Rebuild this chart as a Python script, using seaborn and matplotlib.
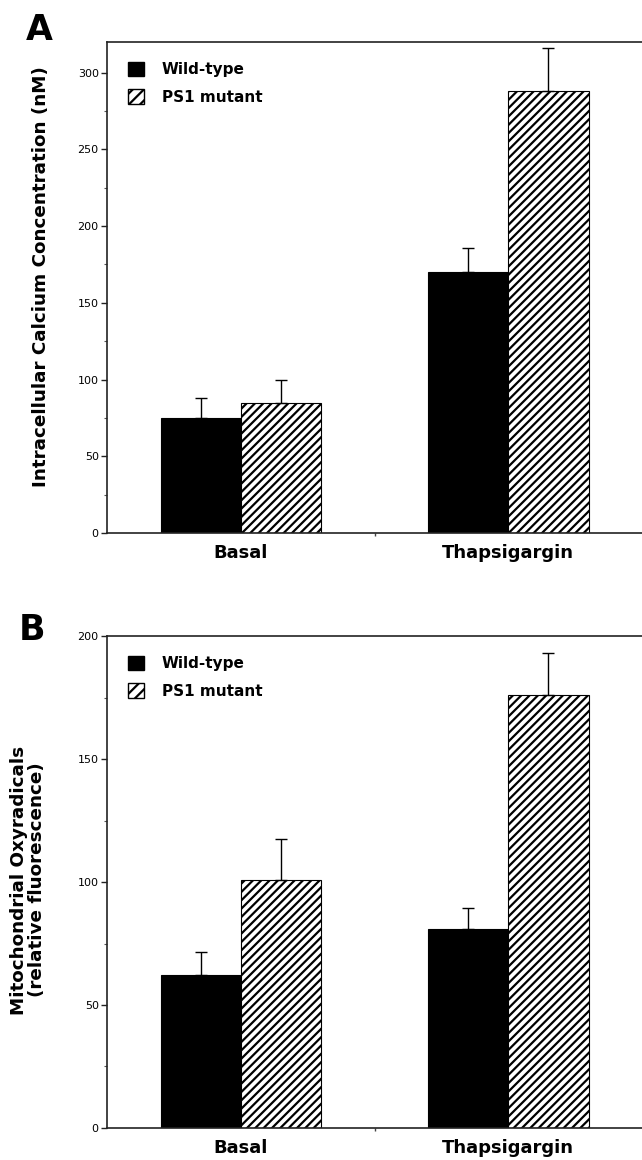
import matplotlib
matplotlib.use('Agg')
import matplotlib.pyplot as plt
from matplotlib.patches import Patch
from matplotlib.ticker import MultipleLocator, FixedLocator
import seaborn as sns
import pandas as pd

# data
conditions = ['Basal', 'Thapsigargin']
groups = ['Wild-type', 'PS1 mutant']

calcium_wt = [75, 170]
calcium_wt_err = [12.7, 15.7]
calcium_ps1 = [84.5, 288]
calcium_ps1_err = [15.5, 28]

oxy_wt = [62, 81]
oxy_wt_err = [9.7, 8.4]
oxy_ps1 = [101, 176]
oxy_ps1_err = [16.5, 17]

sns.set_theme(style='white')
plt.rcParams['font.family'] = ['DejaVu Sans']
plt.rcParams['text.color'] = 'black'
plt.rcParams['hatch.linewidth'] = 1.6
plt.rcParams['hatch.color'] = 'black'

HATCH = '////'


def make_df(wt, ps1):
    rows = []
    for c, v in zip(conditions, wt):
        rows.append({'Condition': c, 'Group': groups[0], 'Value': v})
    for c, v in zip(conditions, ps1):
        rows.append({'Condition': c, 'Group': groups[1], 'Value': v})
    return pd.DataFrame(rows)


def panel(ax, wt, wt_err, ps1, ps1_err, ymax, major):
    df = make_df(wt, ps1)
    sns.barplot(data=df, x='Condition', y='Value', hue='Group', order=conditions,
                hue_order=groups, palette={'Wild-type': 'black', 'PS1 mutant': 'white'},
                width=0.6, errorbar=None, legend=False, ax=ax,
                edgecolor='black', linewidth=0.8, saturation=1)
    errs = [wt_err, ps1_err]
    bars = list(ax.containers)
    for k, cont in enumerate(bars):
        xs = [p.get_x() + p.get_width() / 2 for p in cont.patches]
        hs = [p.get_height() for p in cont.patches]
        if k == 1:
            for p in cont.patches:
                p.set_hatch(HATCH)
        ax.errorbar(xs, hs, yerr=[[0] * len(hs), errs[k]], fmt='none',
                    ecolor='black', elinewidth=1, capsize=4.3, capthick=1, zorder=1)
    ax.set_xlim(-0.5, 1.5)
    ax.set_ylim(0, ymax)
    ax.yaxis.set_major_locator(MultipleLocator(major))
    ax.yaxis.set_minor_locator(MultipleLocator(major / 2))
    ax.xaxis.set_minor_locator(FixedLocator([0.5]))
    ax.set_xlabel('')
    ax.set_ylabel('')
    ax.spines['right'].set_visible(False)
    for s in ['left', 'bottom', 'top']:
        ax.spines[s].set_color('#222222')
        ax.spines[s].set_linewidth(1.2)
    ax.tick_params(axis='y', which='major', direction='out', length=4, width=1,
                   color='#222222', labelsize=8, labelcolor='black', pad=2, left=True)
    ax.tick_params(axis='y', which='minor', direction='out', length=2.5, width=0.8,
                   color='#555555', left=True)
    ax.tick_params(axis='x', which='major', length=0, pad=8, labelsize=13,
                   labelcolor='black')
    ax.tick_params(axis='x', which='minor', direction='out', length=2.5, width=1,
                   color='#444444', bottom=True)
    for t in ax.get_xticklabels():
        t.set_fontweight('bold')
    handles = [Patch(facecolor='black', edgecolor='black'),
               Patch(facecolor='white', edgecolor='black', hatch='///')]
    ax.legend(handles, groups, loc='upper left', bbox_to_anchor=(0.027, 0.972),
              frameon=False, handlelength=1.05, handleheight=1.05,
              handletextpad=1.2, labelspacing=0.8, borderaxespad=0,
              prop={'weight': 'bold', 'size': 11})


fig = plt.figure(figsize=(6.42, 11.6), dpi=100)
ax_a = fig.add_axes([0.1667, 0.5405, 0.8333, 0.4233])
ax_b = fig.add_axes([0.1667, 0.0276, 0.8333, 0.4241])

panel(ax_a, calcium_wt, calcium_wt_err, calcium_ps1, calcium_ps1_err, 320, 50)
panel(ax_b, oxy_wt, oxy_wt_err, oxy_ps1, oxy_ps1_err, 200, 50)

fig.text(26 / 642, 1 - 40 / 1160, 'A', fontsize=25, fontweight='bold', va='baseline')
fig.text(19 / 642, 1 - 640 / 1160, 'B', fontsize=25, fontweight='bold', va='baseline')

fig.text(41 / 642, 1 - 277 / 1160, 'Intracellular Calcium Concentration (nM)',
         rotation=90, ha='center', va='center', fontsize=13.2, fontweight='bold')
fig.text(28 / 642, 1 - 880 / 1160, 'Mitochondrial Oxyradicals\n(relative fluorescence)',
         rotation=90, ha='center', va='center', fontsize=13.2, fontweight='bold',
         multialignment='center', linespacing=1.0)

fig.savefig('out.png', dpi=100, facecolor='white')
